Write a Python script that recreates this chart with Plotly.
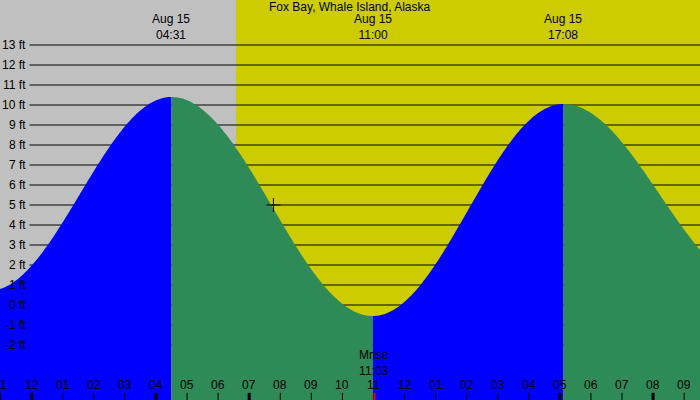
import numpy as np
import plotly.graph_objects as go

title = "Fox Bay, Whale Island, Alaska"
# tide extremes: hours relative to Aug 15 00:00, height ft
ext_hours = [-1.37, 4.517, 11.0, 17.133, 23.33]
ext_heights = [0.7, 10.4, -0.55, 10.05, 1.0]
top_labels = [("Aug 14", "22:38", -1.37), ("Aug 15", "04:31", 4.517),
              ("Aug 15", "11:00", 11.0), ("Aug 15", "17:08", 17.133)]
sunrise = 6.6
moonrise = 11.05
cursor = (7.8, 5.0)
hour_labels = ["11","12","01","02","03","04","05","06","07","08","09","10","11","12","01","02","03","04","05","06","07","08","09"]
thick = {1, 5, 18, 21, 8}
ft_levels = list(range(-2, 14))

X0, X1 = -1.0, 21.53
Y0, Y1 = -4.75, 15.25

fig = go.Figure()
shapes = [
    dict(type="rect", xref="x", yref="y", x0=X0, x1=sunrise, y0=Y0, y1=Y1, fillcolor="#c0c0c0", line_width=0, layer="below"),
    dict(type="rect", xref="x", yref="y", x0=sunrise, x1=X1, y0=Y0, y1=Y1, fillcolor="#cccc00", line_width=0, layer="below"),
]
for f in ft_levels:
    shapes.append(dict(type="line", xref="x", yref="y", x0=X0 + 0.95, x1=X1, y0=f, y1=f, line=dict(color="black", width=1), layer="below"))

for i in range(len(ext_hours) - 1):
    ta, tb = ext_hours[i], ext_hours[i + 1]
    ha, hb = ext_heights[i], ext_heights[i + 1]
    lo, hi = max(ta, X0), min(tb, X1)
    if hi <= lo:
        continue
    t = np.linspace(lo, hi, 120)
    h = ha + (hb - ha) * (1 - np.cos(np.pi * (t - ta) / (tb - ta))) / 2
    col = "#0000ff" if hb > ha else "#2e8b57"
    xs = np.concatenate([[lo], t, [hi]])
    ys = np.concatenate([[Y0], h, [Y0]])
    fig.add_trace(go.Scatter(x=xs, y=ys, fill="toself", fillcolor=col, mode="none", hoverinfo="skip"))

fig.add_trace(go.Scatter(x=[cursor[0]], y=[cursor[1]], mode="markers",
                         marker=dict(symbol="cross-thin", size=10, line=dict(color="black", width=1))))

ann = []
font = dict(family="Liberation Sans, Arial", size=12, color="black")
ann.append(dict(x=0.5, y=1.0, xref="paper", yref="paper", text=title, showarrow=False, yanchor="top", yshift=2, font=font))
for a, b, hx in top_labels:
    ann.append(dict(x=hx, y=Y1, xref="x", yref="y", text=a + "<br>" + b, showarrow=False, yanchor="top", yshift=-10, font=font))
for f in ft_levels:
    ann.append(dict(x=X0 + 0.9, y=f, xref="x", yref="y", text=f"{f} ft", showarrow=False, xanchor="right", font=font))
ann.append(dict(x=moonrise, y=Y0, xref="x", yref="y", text="Mrise<br>11:03", showarrow=False, yanchor="bottom", yshift=20, font=font))
for i, lab in enumerate(hour_labels):
    hx = -1 + i + 0.02
    ann.append(dict(x=hx, y=Y0, xref="x", yref="y", text=lab, showarrow=False, yanchor="bottom", yshift=6, font=font))
    shapes.append(dict(type="line", xref="x", yref="paper", x0=hx, x1=hx, y0=0, y1=0.018,
                       line=dict(color="black", width=3 if i in thick else 1)))
shapes.append(dict(type="line", xref="x", yref="paper", x0=moonrise, x1=moonrise, y0=0, y1=0.018, line=dict(color="red", width=2)))

fig.update_layout(width=700, height=400, margin=dict(l=0, r=0, t=0, b=0), showlegend=False,
                  shapes=shapes, annotations=ann, plot_bgcolor="#cccc00", paper_bgcolor="#cccc00",
                  xaxis=dict(range=[X0, X1], visible=False, fixedrange=True),
                  yaxis=dict(range=[Y0, Y1], visible=False, fixedrange=True))
fig.write_html("out.html", config={"displayModeBar": False})
with open("out.html", encoding="utf-8") as fh:
    html = fh.read()
html = html.replace("<body>", '<body style="margin:0;padding:0;overflow:hidden">', 1)
with open("out.html", "w", encoding="utf-8") as fh:
    fh.write(html)
